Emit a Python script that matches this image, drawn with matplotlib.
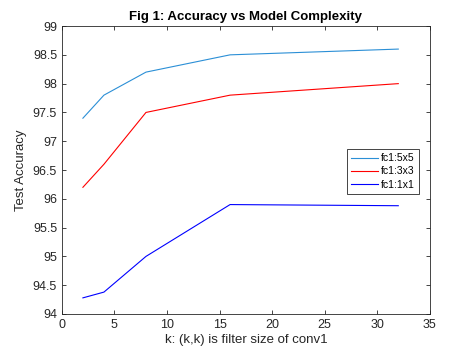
import numpy as np
import matplotlib
matplotlib.use('Agg')
import matplotlib.pyplot as plt

plt.rcParams['font.family'] = ['Liberation Sans', 'DejaVu Sans']

# filter sizes k
k = [2, 4, 8, 16, 32]
acc_5x5 = [97.4, 97.8, 98.2, 98.5, 98.6]
acc_3x3 = [96.2, 96.6, 97.5, 97.8, 98.0]
acc_1x1 = [94.28, 94.38, 95.0, 95.9, 95.88]
labels = ['fc1:5x5', 'fc1:3x3', 'fc1:1x1']

fig = plt.figure(figsize=(4.76, 3.52), dpi=100)
ax = fig.add_axes([0.130, 0.108, 0.773, 0.818])

ax.plot(k, acc_5x5, color='#2b8fd6', lw=0.8, label=labels[0])
ax.plot(k, acc_3x3, color='#ff0000', lw=0.8, label=labels[1])
ax.plot(k, acc_1x1, color='#0000ff', lw=0.8, label=labels[2])

ax.set_xlim(0, 35)
ax.set_ylim(94, 99)
ax.set_xticks(np.arange(0, 36, 5))
ax.set_yticks(np.arange(94, 99.01, 0.5))
ax.set_yticklabels(['94', '94.5', '95', '95.5', '96', '96.5', '97', '97.5', '98', '98.5', '99'])
ax.tick_params(direction='in', top=True, right=True, labelsize=9, length=3,
               width=0.6, colors='#262626', labelcolor='#262626')
for s in ax.spines.values():
    s.set_linewidth(0.6)
    s.set_color('#262626')

ax.set_title('Fig 1: Accuracy vs Model Complexity', fontsize=9.5, fontweight='bold', pad=4)
ax.set_xlabel('k: (k,k) is filter size of conv1', fontsize=9.5, color='#262626', labelpad=2)
ax.set_ylabel('Test Accuracy', fontsize=9.5, color='#262626', labelpad=4)

leg = ax.legend(loc='center right', bbox_to_anchor=(0.985, 0.495), fontsize=7.5,
                fancybox=False, framealpha=1, edgecolor='#262626',
                handlelength=2.6, handletextpad=0.3, borderpad=0.4, labelspacing=0.3)
leg.get_frame().set_linewidth(0.6)

fig.savefig('out.png', dpi=100)
